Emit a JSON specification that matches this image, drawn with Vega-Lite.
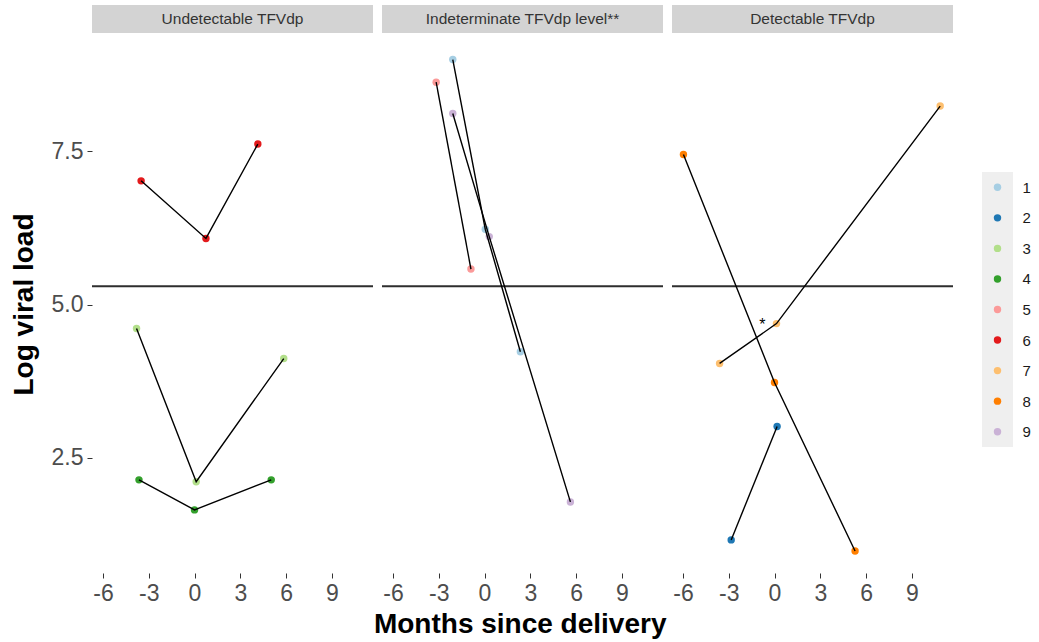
{
  "$schema": "https://vega.github.io/schema/vega-lite/v6.json",
  "padding": {"left": 10, "top": 5, "right": 5, "bottom": 5},
  "background": "white",
  "title": {"text": "Months since delivery", "orient": "bottom", "anchor": "middle", "fontSize": 28, "fontWeight": "bold", "color": "black", "font": "Liberation Sans", "offset": 6},
  "datasets": {
    "pts": [
      {"panel": "Undetectable TFVdp", "patient": "6", "month": -3.5, "vl": 7.02},
      {"panel": "Undetectable TFVdp", "patient": "6", "month": 0.75, "vl": 6.08},
      {"panel": "Undetectable TFVdp", "patient": "6", "month": 4.15, "vl": 7.62},
      {"panel": "Undetectable TFVdp", "patient": "3", "month": -3.8, "vl": 4.61},
      {"panel": "Undetectable TFVdp", "patient": "3", "month": 0.11, "vl": 2.11},
      {"panel": "Undetectable TFVdp", "patient": "3", "month": 5.85, "vl": 4.12},
      {"panel": "Undetectable TFVdp", "patient": "4", "month": -3.64, "vl": 2.14},
      {"panel": "Undetectable TFVdp", "patient": "4", "month": 0.0, "vl": 1.65},
      {"panel": "Undetectable TFVdp", "patient": "4", "month": 5.03, "vl": 2.14},
      {"panel": "Indeterminate TFVdp level**", "patient": "1", "month": -2.08, "vl": 9.0},
      {"panel": "Indeterminate TFVdp level**", "patient": "1", "month": 0.05, "vl": 6.23},
      {"panel": "Indeterminate TFVdp level**", "patient": "1", "month": 2.35, "vl": 4.23},
      {"panel": "Indeterminate TFVdp level**", "patient": "5", "month": -3.17, "vl": 8.63},
      {"panel": "Indeterminate TFVdp level**", "patient": "5", "month": -0.89, "vl": 5.58},
      {"panel": "Indeterminate TFVdp level**", "patient": "9", "month": -2.08, "vl": 8.12},
      {"panel": "Indeterminate TFVdp level**", "patient": "9", "month": 0.31, "vl": 6.11},
      {"panel": "Indeterminate TFVdp level**", "patient": "9", "month": 5.63, "vl": 1.78},
      {"panel": "Detectable TFVdp", "patient": "8", "month": -5.97, "vl": 7.45},
      {"panel": "Detectable TFVdp", "patient": "8", "month": 0.0, "vl": 3.73},
      {"panel": "Detectable TFVdp", "patient": "8", "month": 5.28, "vl": 0.98},
      {"panel": "Detectable TFVdp", "patient": "7", "month": -3.6, "vl": 4.04},
      {"panel": "Detectable TFVdp", "patient": "7", "month": 0.13, "vl": 4.69},
      {"panel": "Detectable TFVdp", "patient": "7", "month": 10.86, "vl": 8.24},
      {"panel": "Detectable TFVdp", "patient": "2", "month": -2.84, "vl": 1.16},
      {"panel": "Detectable TFVdp", "patient": "2", "month": 0.17, "vl": 3.01}
    ]
  },
  "hconcat": [
    {
      "hconcat": [
        {
          "vconcat": [
            {
              "width": 281, "height": 28,
              "data": {"values": [{"label": "Undetectable TFVdp"}]},
              "mark": {"type": "text", "fontSize": 15.5, "color": "#333333"},
              "encoding": {"text": {"field": "label"}},
              "view": {"fill": "#d3d3d3", "stroke": null}
            },
            {
              "width": 281, "height": 538,
              "encoding": {
                "y": {"field": "vl", "type": "quantitative", "scale": {"domain": [0.62, 9.4], "nice": false, "zero": false},
                      "axis": {"values": [2.5, 5, 7.5], "format": ".1f", "title": "Log viral load"}}
              },
              "layer": [
                {"data": {"values": [{"vl": 5.3}]}, "mark": {"type": "rule", "color": "#2e2e2e", "strokeWidth": 1.8}},
                {"data": {"name": "pts"}, "transform": [{"filter": {"field": "panel", "equal": "Undetectable TFVdp"}}],
                 "mark": {"type": "point", "filled": true, "size": 55, "opacity": 1},
                 "encoding": {
                   "x": {"field": "month", "type": "quantitative", "scale": {"domain": [-6.72, 11.7], "nice": false, "zero": false}, "axis": {"values": [-6, -3, 0, 3, 6, 9], "labelExpr": "'' + datum.value", "title": null}},
                   "color": {"field": "patient", "type": "nominal", "scale": {"domain": ["1","2","3","4","5","6","7","8","9"], "range": ["#a6cee3","#1f78b4","#b2df8a","#33a02c","#fb9a99","#e31a1c","#fdbf6f","#ff7f00","#cab2d6"]}, "legend": null}
                 }},
                {"data": {"name": "pts"}, "transform": [{"filter": {"field": "panel", "equal": "Undetectable TFVdp"}}],
                 "mark": {"type": "line", "color": "black", "strokeWidth": 1.4},
                 "encoding": {
                   "x": {"field": "month", "type": "quantitative", "scale": {"domain": [-6.72, 11.7], "nice": false, "zero": false}, "axis": {"values": [-6, -3, 0, 3, 6, 9], "labelExpr": "'' + datum.value", "title": null}},
                   "detail": {"field": "patient"},
                   "order": {"field": "month", "type": "quantitative"}
                 }}
              ]
            }
          ],
          "spacing": 2
        },
        {
          "vconcat": [
            {
              "width": 281, "height": 28,
              "data": {"values": [{"label": "Indeterminate TFVdp level**"}]},
              "mark": {"type": "text", "fontSize": 15.5, "color": "#333333"},
              "encoding": {"text": {"field": "label"}},
              "view": {"fill": "#d3d3d3", "stroke": null}
            },
            {
              "width": 281, "height": 538,
              "encoding": {
                "y": {"field": "vl", "type": "quantitative", "scale": {"domain": [0.62, 9.4], "nice": false, "zero": false}, "axis": null}
              },
              "layer": [
                {"data": {"values": [{"vl": 5.3}]}, "mark": {"type": "rule", "color": "#2e2e2e", "strokeWidth": 1.8}},
                {"data": {"name": "pts"}, "transform": [{"filter": {"field": "panel", "equal": "Indeterminate TFVdp level**"}}],
                 "mark": {"type": "point", "filled": true, "size": 55, "opacity": 1},
                 "encoding": {
                   "x": {"field": "month", "type": "quantitative", "scale": {"domain": [-6.72, 11.7], "nice": false, "zero": false}, "axis": {"values": [-6, -3, 0, 3, 6, 9], "labelExpr": "'' + datum.value", "title": null}},
                   "color": {"field": "patient", "type": "nominal", "scale": {"domain": ["1","2","3","4","5","6","7","8","9"], "range": ["#a6cee3","#1f78b4","#b2df8a","#33a02c","#fb9a99","#e31a1c","#fdbf6f","#ff7f00","#cab2d6"]}, "legend": null}
                 }},
                {"data": {"name": "pts"}, "transform": [{"filter": {"field": "panel", "equal": "Indeterminate TFVdp level**"}}],
                 "mark": {"type": "line", "color": "black", "strokeWidth": 1.4},
                 "encoding": {
                   "x": {"field": "month", "type": "quantitative", "scale": {"domain": [-6.72, 11.7], "nice": false, "zero": false}, "axis": {"values": [-6, -3, 0, 3, 6, 9], "labelExpr": "'' + datum.value", "title": null}},
                   "detail": {"field": "patient"},
                   "order": {"field": "month", "type": "quantitative"}
                 }}
              ]
            }
          ],
          "spacing": 2
        },
        {
          "vconcat": [
            {
              "width": 281, "height": 28,
              "data": {"values": [{"label": "Detectable TFVdp"}]},
              "mark": {"type": "text", "fontSize": 15.5, "color": "#333333"},
              "encoding": {"text": {"field": "label"}},
              "view": {"fill": "#d3d3d3", "stroke": null}
            },
            {
              "width": 281, "height": 538,
              "encoding": {
                "y": {"field": "vl", "type": "quantitative", "scale": {"domain": [0.62, 9.4], "nice": false, "zero": false}, "axis": null}
              },
              "layer": [
                {"data": {"values": [{"vl": 5.3}]}, "mark": {"type": "rule", "color": "#2e2e2e", "strokeWidth": 1.8}},
                {"data": {"name": "pts"}, "transform": [{"filter": {"field": "panel", "equal": "Detectable TFVdp"}}],
                 "mark": {"type": "point", "filled": true, "size": 55, "opacity": 1},
                 "encoding": {
                   "x": {"field": "month", "type": "quantitative", "scale": {"domain": [-6.72, 11.7], "nice": false, "zero": false}, "axis": {"values": [-6, -3, 0, 3, 6, 9], "labelExpr": "'' + datum.value", "title": null}},
                   "color": {"field": "patient", "type": "nominal", "scale": {"domain": ["1","2","3","4","5","6","7","8","9"], "range": ["#a6cee3","#1f78b4","#b2df8a","#33a02c","#fb9a99","#e31a1c","#fdbf6f","#ff7f00","#cab2d6"]}, "legend": null}
                 }},
                {"data": {"name": "pts"}, "transform": [{"filter": {"field": "panel", "equal": "Detectable TFVdp"}}],
                 "mark": {"type": "line", "color": "black", "strokeWidth": 1.4},
                 "encoding": {
                   "x": {"field": "month", "type": "quantitative", "scale": {"domain": [-6.72, 11.7], "nice": false, "zero": false}, "axis": {"values": [-6, -3, 0, 3, 6, 9], "labelExpr": "'' + datum.value", "title": null}},
                   "detail": {"field": "patient"},
                   "order": {"field": "month", "type": "quantitative"}
                 }},
                {"data": {"values": [{"month": -0.8, "vl": 4.66, "note": "*"}]},
                 "mark": {"type": "text", "fontSize": 16, "color": "black", "baseline": "middle"},
                 "encoding": {
                   "x": {"field": "month", "type": "quantitative", "scale": {"domain": [-6.72, 11.7], "nice": false, "zero": false}, "axis": {"values": [-6, -3, 0, 3, 6, 9], "labelExpr": "'' + datum.value", "title": null}},
                   "text": {"field": "note"}
                 }}
              ]
            }
          ],
          "spacing": 2
        }
      ],
      "spacing": 7
    },
    {
      "vconcat": [
        {
          "width": 31, "height": 167,
          "data": {"values": [{"blank": 0}]},
          "mark": {"type": "point", "opacity": 0},
          "encoding": {}
        },
        {
          "width": 31, "height": 275,
          "data": {"name": "pts"},
          "transform": [{"aggregate": [{"op": "count", "as": "n"}], "groupby": ["patient"]}],
          "mark": {"type": "point", "filled": true, "size": 55, "opacity": 1},
          "encoding": {
            "y": {"field": "patient", "type": "nominal", "sort": "ascending",
                  "axis": {"orient": "right", "title": null, "ticks": false, "domain": false, "labelFontSize": 15, "labelColor": "#1a1a1a", "labelPadding": 9}},
            "color": {"field": "patient", "type": "nominal", "scale": {"domain": ["1","2","3","4","5","6","7","8","9"], "range": ["#a6cee3","#1f78b4","#b2df8a","#33a02c","#fb9a99","#e31a1c","#fdbf6f","#ff7f00","#cab2d6"]}, "legend": null}
          },
          "view": {"fill": "#efefef", "stroke": null}
        }
      ],
      "spacing": 0
    }
  ],
  "spacing": 28,
  "config": {
    "font": "Liberation Sans",
    "view": {"stroke": null},
    "axis": {
      "grid": false, "domain": false,
      "tickColor": "#333333", "tickSize": 5, "tickWidth": 1,
      "labelColor": "#4d4d4d", "labelFontSize": 23, "labelFont": "Liberation Sans",
      "titleFont": "Liberation Sans", "titleFontSize": 28, "titleFontWeight": "bold", "titleColor": "black",
      "labelPadding": 4
    },
    "axisY": {"titlePadding": 13},
    "axisX": {"titlePadding": 6}
  }
}
